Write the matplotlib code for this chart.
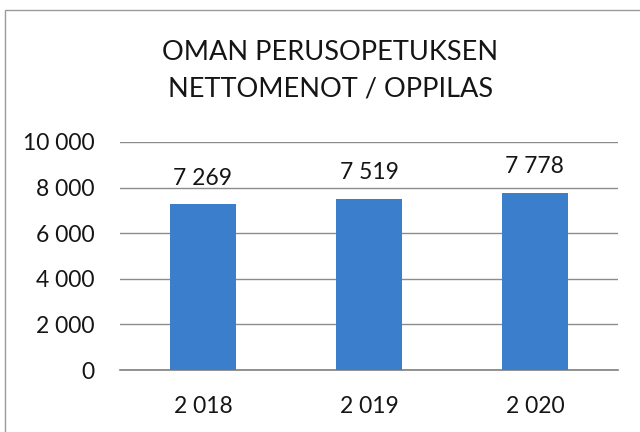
import matplotlib
matplotlib.use("Agg")
import matplotlib.pyplot as plt
from matplotlib.patches import Rectangle

# data
years = ["2 018", "2 019", "2 020"]
costs = [7269, 7519, 7778]
cost_labels = ["7 269", "7 519", "7 778"]
yticks = [0, 2000, 4000, 6000, 8000, 10000]
ytick_labels = ["0", "2 000", "4 000", "6 000", "8 000", "10 000"]

plt.rcParams['font.family'] = ['Lato', 'DejaVu Sans']

fig = plt.figure(figsize=(6.4, 4.32), dpi=100)
ax = fig.add_axes([0.1875, 0.1435, 0.778, 0.528])

x = range(len(years))
bars = ax.bar(x, costs, width=0.4, color='#3a7ecc', zorder=3)

for xi, val, lab in zip(x, costs, cost_labels):
    ax.annotate(lab, (xi, val), xytext=(0, 11), textcoords='offset points',
                ha='center', va='bottom', fontsize=16.5, color='#151515')

ax.set_xlim(-0.5, 2.5)
ax.set_ylim(0, 10000)
ax.set_yticks(yticks)
ax.set_yticklabels(ytick_labels)
ax.set_xticks(list(x))
ax.set_xticklabels(years)
ax.tick_params(axis='y', length=0, pad=18, labelsize=16.5, labelcolor='#151515')
ax.tick_params(axis='x', length=0, pad=19, labelsize=16.5, labelcolor='#151515')
ax.grid(axis='y', color='#8c8c8c', linewidth=1.0, zorder=0)

for side in ['left', 'right', 'top']:
    ax.spines[side].set_visible(False)
ax.spines['bottom'].set_color('#808080')
ax.spines['bottom'].set_linewidth(1.2)

fig.text(0.516, 0.878, "OMAN PERUSOPETUKSEN", ha='center', va='center',
         fontsize=19.5, color='#151515')
fig.text(0.516, 0.795, "NETTOMENOT / OPPILAS", ha='center', va='center',
         fontsize=19.5, color='#151515')

# outer chart border
fig.patches.append(Rectangle((0.008, -0.05), 1.0, 1.027, transform=fig.transFigure,
                             fill=False, edgecolor='#9a9a9a', linewidth=1.0))

fig.savefig("out.png", dpi=100)
